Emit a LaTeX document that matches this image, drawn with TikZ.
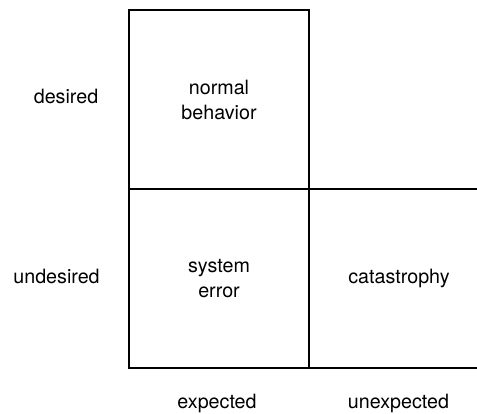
\documentclass[tikz,border=0pt]{standalone}
\usepackage{fontspec}
\setmainfont{TeX Gyre Heros}
\tikzset{
	cell/.style={draw=black, line width=1.5pt, minimum width=180pt,
	minimum height=179pt, inner sep=0pt, align=center,
	font=\fontsize{19.7}{25}\selectfont},
	axislabel/.style={inner sep=0pt, anchor=base,
	font=\fontsize{19.7}{25}\selectfont}
}
\begin{document}
\begin{tikzpicture}[x=1pt, y=-1pt]
	\useasboundingbox (0, 0) rectangle (477, 414);
	% Felder
	\node[cell] (normal) at (219, 99.5) {normal\\behavior};
	\node[cell] (error) at (219, 278.5) {system\\error};
	\node[cell] (catastrophy) at (399, 278.5) {catastrophy};
	% Beschriftung links
	\node[axislabel] (desired) at (66, 104) {desired};
	\node[axislabel] (undesired) at (56.5, 284) {undesired};
	% Beschriftung unten
	\node[axislabel] (expected) at (217, 408) {expected};
	\node[axislabel] (unexpected) at (398.5, 408) {unexpected};
\end{tikzpicture}
\end{document}
